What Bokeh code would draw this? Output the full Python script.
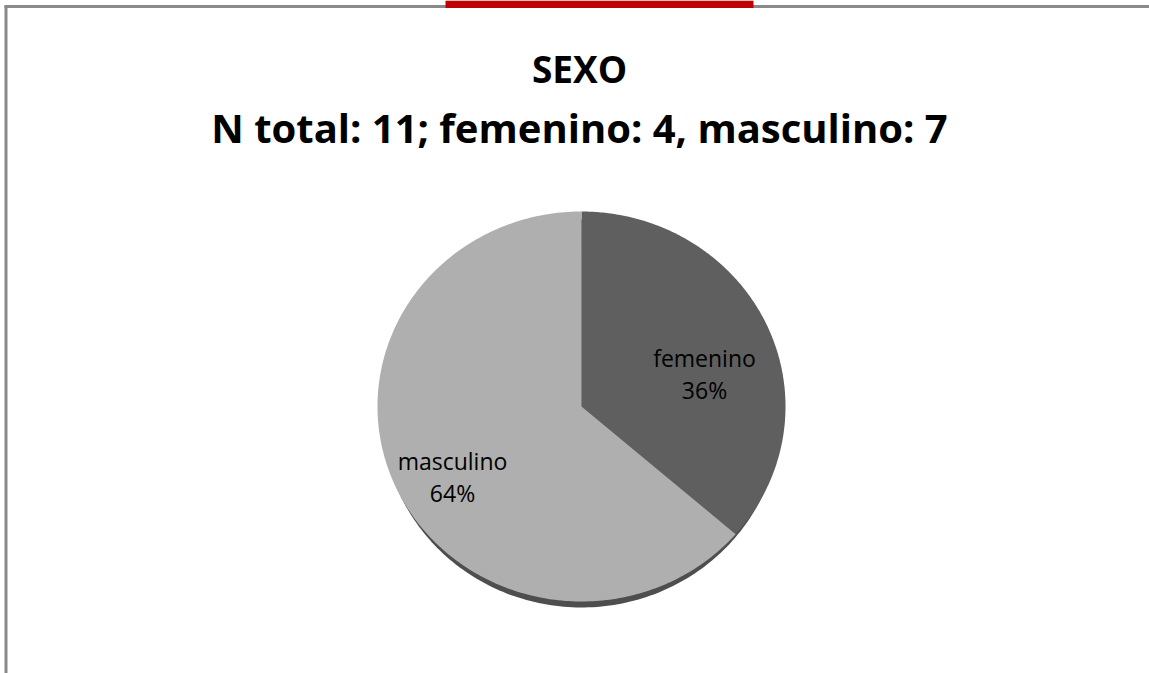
import numpy as np
from bokeh.plotting import figure
from bokeh.models import Range1d, ColumnDataSource
from bokeh.core.properties import value
from bokeh.embed import file_html
from bokeh.resources import INLINE

# ---- data ----
categories = ["femenino", "masculino"]
counts = [4, 7]
slice_colors = ["#5f5f5f", "#afafaf"]
title_main = "SEXO"
title_sub = "N total: 11; femenino: 4, masculino: 7"

# ---- layout (pixels, reference coordinates, y measured from top) ----
W, H = 1149, 673
def py(y):
    return H - y

CX, CY = 581, py(406)
RX, RY = 204, 195
label_anchor = [(704, 357), (452, 460)]   # first-line baseline of each slice label
LINE_GAP = 32

p = figure(width=W, height=H, x_range=Range1d(0, W), y_range=Range1d(0, H),
           x_axis_type=None, y_axis_type=None, output_backend="svg",
           toolbar_location=None, min_border=0)
p.grid.visible = False
p.outline_line_color = None
p.background_fill_color = "white"
p.border_fill_color = "white"

# frame lines and red tab
p.line([5.5, 5.5], [0, py(5)], line_color="#8a8a8a", line_width=3)
p.line([4, W], [py(6), py(6)], line_color="#8a8a8a", line_width=3)
p.quad(left=445, right=753, top=H, bottom=py(7.5), fill_color="#c00000", line_color=None)

# shadow (visible mainly along the bottom)
t = np.linspace(0, 2 * np.pi, 300)
p.patch(CX + (RX - 4) * np.cos(t), CY - 7 + (RY - 1) * np.sin(t),
        fill_color="#4e4e4e", line_color=None)

# pie slices
total = float(sum(counts))
start = np.pi / 2
for i, (cat, c, col) in enumerate(zip(categories, counts, slice_colors)):
    span = 2 * np.pi * c / total
    a = np.linspace(start, start - span, 240)
    xs = np.concatenate([[CX], CX + RX * np.cos(a), [CX]])
    ys = np.concatenate([[CY], CY + RY * np.sin(a), [CY]])
    p.patch(xs, ys, fill_color=col, line_color=None)
    lx, lb = label_anchor[i]
    pct = f"{round(100 * c / total)}%"
    src = ColumnDataSource(dict(x=[lx, lx], y=[py(lb), py(lb + LINE_GAP)], t=[cat, pct]))
    p.text(x="x", y="y", text="t", source=src, text_align="center",
           text_baseline="alphabetic", text_font=value("Open Sans"),
           text_font_size="23px", text_color="#000000")
    start -= span

# titles
p.text(x=[579], y=[py(68)], text=[title_main], text_align="center",
       text_baseline="alphabetic", text_font=value("Open Sans"),
       text_font_style="bold", text_font_size="37px", text_color="#000000")
p.text(x=[579], y=[py(127)], text=[title_sub], text_align="center",
       text_baseline="alphabetic", text_font=value("Open Sans"),
       text_font_style="bold", text_font_size="40px", text_color="#000000")

open("out.html", "w").write(file_html(p, INLINE))
